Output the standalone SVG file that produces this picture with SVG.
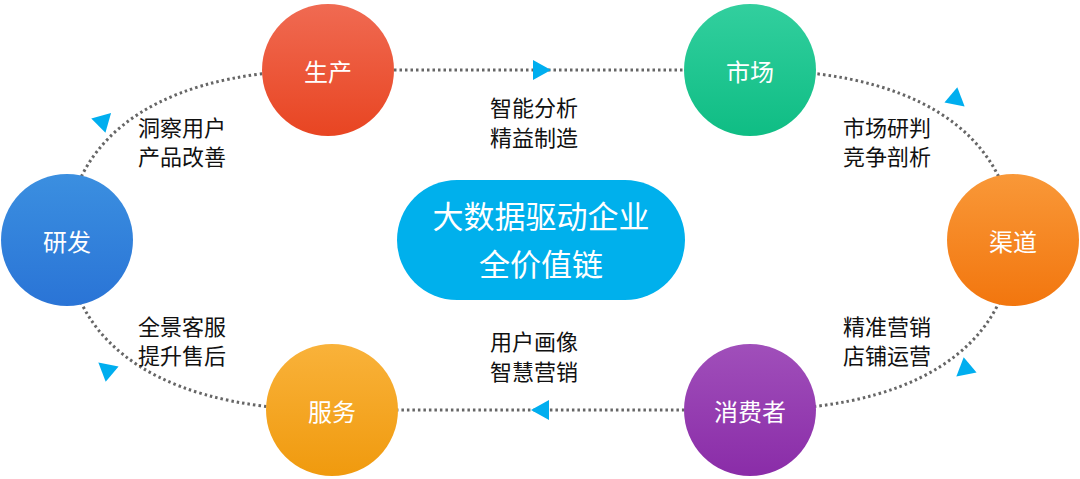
<svg xmlns="http://www.w3.org/2000/svg" width="1080" height="479" viewBox="0 0 1080 479">
<style>
.lbl{font-family:"Noto Sans CJK SC",sans-serif;font-size:22px;fill:#111}
.nt{font-family:"Noto Sans CJK SC",sans-serif;font-size:24px;fill:#fff;text-anchor:middle;dominant-baseline:central}
.ct{font-family:"Noto Sans CJK SC",sans-serif;font-size:31px;fill:#fff;text-anchor:middle}
.arr{fill:#00aeef}
</style>
<defs>
<linearGradient id="gR" x1="0" y1="0" x2="0" y2="1"><stop offset="0" stop-color="#f06a52"/><stop offset="1" stop-color="#e84522"/></linearGradient>
<linearGradient id="gG" x1="0" y1="0" x2="0" y2="1"><stop offset="0" stop-color="#32cf9e"/><stop offset="1" stop-color="#0fbd84"/></linearGradient>
<linearGradient id="gO" x1="0" y1="0" x2="0" y2="1"><stop offset="0" stop-color="#f99838"/><stop offset="1" stop-color="#f2760e"/></linearGradient>
<linearGradient id="gP" x1="0" y1="0" x2="0" y2="1"><stop offset="0" stop-color="#a04fba"/><stop offset="1" stop-color="#8a2ca8"/></linearGradient>
<linearGradient id="gY" x1="0" y1="0" x2="0" y2="1"><stop offset="0" stop-color="#f9b23a"/><stop offset="1" stop-color="#f09a0e"/></linearGradient>
<linearGradient id="gB" x1="0" y1="0" x2="0" y2="1"><stop offset="0" stop-color="#3b8fe0"/><stop offset="1" stop-color="#2a74d6"/></linearGradient>
</defs>
<g id="connectors">
<path d="M328,70 H750 C950,70 1013,160 1013,240 C1013,320 950,410 750,410 H332 C130,410 67,320 67,240 C67,160 130,70 328,70 Z" fill="none" stroke="#666" stroke-width="3" stroke-dasharray="2.5 3"/>
<polygon class="arr" points="-8,-10 10,0 -8,10" transform="translate(541,70)"/>
<polygon class="arr" points="-8,-10 10,0 -8,10" transform="translate(957,100) rotate(40)"/>
<polygon class="arr" points="-8,-10 10,0 -8,10" transform="translate(964,370) rotate(140)"/>
<polygon class="arr" points="-8,-10 10,0 -8,10" transform="translate(541,410) rotate(180)"/>
<polygon class="arr" points="-8,-10 10,0 -8,10" transform="translate(106,369) rotate(-140)"/>
<polygon class="arr" points="-8,-10 10,0 -8,10" transform="translate(104,120) rotate(-45)"/>
</g>
<g id="n-shengchan"><circle cx="328" cy="70" r="66" fill="url(#gR)"/><text class="nt" x="328" y="70">生产</text></g>
<g id="n-shichang"><circle cx="750" cy="70" r="66" fill="url(#gG)"/><text class="nt" x="750" y="70">市场</text></g>
<g id="n-qudao"><circle cx="1013" cy="240" r="66" fill="url(#gO)"/><text class="nt" x="1013" y="240">渠道</text></g>
<g id="n-xiaofeizhe"><circle cx="750" cy="410" r="66" fill="url(#gP)"/><text class="nt" x="750" y="410">消费者</text></g>
<g id="n-fuwu"><circle cx="332" cy="410" r="66" fill="url(#gY)"/><text class="nt" x="332" y="410">服务</text></g>
<g id="n-yanfa"><circle cx="67" cy="240" r="66" fill="url(#gB)"/><text class="nt" x="67" y="240">研发</text></g>
<g id="center"><rect x="397" y="180" width="288" height="120" rx="60" fill="#00b0ec"/>
<text class="ct" x="541" y="228">大数据驱动企业</text><text class="ct" x="541" y="276">全价值链</text></g>
<g id="labels">
<text class="lbl" x="138" y="136">洞察用户</text><text class="lbl" x="138" y="165">产品改善</text>
<text class="lbl" x="490" y="116">智能分析</text><text class="lbl" x="490" y="146">精益制造</text>
<text class="lbl" x="843" y="136">市场研判</text><text class="lbl" x="843" y="165">竞争剖析</text>
<text class="lbl" x="843" y="335">精准营销</text><text class="lbl" x="843" y="364">店铺运营</text>
<text class="lbl" x="490" y="350">用户画像</text><text class="lbl" x="490" y="380">智慧营销</text>
<text class="lbl" x="138" y="335">全景客服</text><text class="lbl" x="138" y="364">提升售后</text>
</g>
</svg>
